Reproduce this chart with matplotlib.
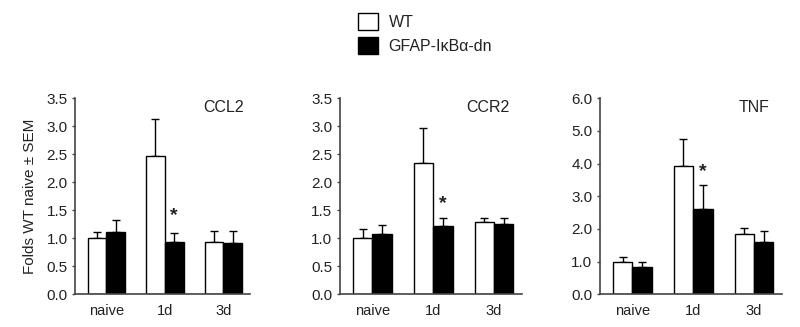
import matplotlib
matplotlib.use("Agg")
import matplotlib.pyplot as plt
from matplotlib.patches import Patch
import numpy as np

plt.rcParams['font.family'] = ['Liberation Sans', 'DejaVu Sans']

groups = ["naive", "1d", "3d"]
series = ["WT", "GFAP-I\u03baB\u03b1-dn"]
panels = ["CCL2", "CCR2", "TNF"]

ccl2_wt = [1.00, 2.47, 0.94]
ccl2_wt_err = [0.11, 0.66, 0.19]
ccl2_dn = [1.11, 0.93, 0.91]
ccl2_dn_err = [0.22, 0.17, 0.22]

ccr2_wt = [1.00, 2.34, 1.29]
ccr2_wt_err = [0.16, 0.62, 0.07]
ccr2_dn = [1.08, 1.22, 1.26]
ccr2_dn_err = [0.16, 0.14, 0.10]

tnf_wt = [1.00, 3.91, 1.84]
tnf_wt_err = [0.13, 0.84, 0.20]
tnf_dn = [0.82, 2.62, 1.60]
tnf_dn_err = [0.16, 0.71, 0.35]

star_y = [1.40, 1.62, 3.74]
ymax = [3.5, 3.5, 6.0]
ystep = [0.5, 0.5, 1.0]

data = [
    (ccl2_wt, ccl2_wt_err, ccl2_dn, ccl2_dn_err),
    (ccr2_wt, ccr2_wt_err, ccr2_dn, ccr2_dn_err),
    (tnf_wt, tnf_wt_err, tnf_dn, tnf_dn_err),
]

fig = plt.figure(figsize=(8.0, 3.27), dpi=100)
lefts = [0.094, 0.425, 0.750]
widths = [0.219, 0.2275, 0.2275]
label_x = [0.965, 0.93, 0.93]

axcol = '#444444'
txtcol = '#222222'
w = 0.32
x = np.arange(len(groups))

for i, (name, (wt, wte, dn, dne)) in enumerate(zip(panels, data)):
    ax = fig.add_axes([lefts[i], 0.100, widths[i], 0.600])
    ax.bar(x - w / 2, wt, w, color='white', edgecolor='black', linewidth=1.0, zorder=2)
    ax.bar(x + w / 2, dn, w, color='black', edgecolor='black', linewidth=1.0, zorder=2)
    ax.errorbar(x - w / 2, wt, yerr=[np.zeros(3), wte], fmt='none', ecolor='black',
                elinewidth=1.0, capsize=3, capthick=1.0, zorder=1)
    ax.errorbar(x + w / 2, dn, yerr=[np.zeros(3), dne], fmt='none', ecolor='black',
                elinewidth=1.0, capsize=3, capthick=1.0, zorder=1)
    ax.text(1 + w / 2, star_y[i], "*", ha='center', va='center', fontsize=14,
            fontweight='bold', color=txtcol)
    ax.set_xlim(-0.53, 2.46)
    ax.set_ylim(0, ymax[i])
    ax.set_yticks(np.arange(0, ymax[i] + 1e-9, ystep[i]))
    ax.yaxis.set_major_formatter(matplotlib.ticker.FormatStrFormatter('%.1f'))
    ax.set_xticks(x)
    ax.set_xticklabels(groups)
    for s in ['top', 'right']:
        ax.spines[s].set_visible(False)
    for s in ['left', 'bottom']:
        ax.spines[s].set_color(axcol)
        ax.spines[s].set_linewidth(1.2)
    ax.tick_params(axis='y', direction='out', length=2.5, width=1.0, color=axcol,
                   labelsize=11, labelcolor=txtcol, pad=3)
    ax.tick_params(axis='x', length=0, labelsize=10.5, labelcolor=txtcol, pad=7)
    ax.text(label_x[i], 0.95, name, transform=ax.transAxes, ha='right', va='center',
            fontsize=11.5, color=txtcol)
    if i == 0:
        ax.set_ylabel("Folds WT naive \u00b1 SEM", fontsize=11, color=txtcol, labelpad=7)

handles = [Patch(facecolor='white', edgecolor='black', linewidth=1.0),
           Patch(facecolor='black', edgecolor='black', linewidth=1.0)]
fig.legend(handles, series, loc='upper left', bbox_to_anchor=(0.43, 1.005), frameon=False,
           fontsize=11.5, handlelength=1.25, handleheight=1.25, labelspacing=0.45,
           handletextpad=0.65, labelcolor=txtcol)

fig.savefig("out.png", dpi=100)
